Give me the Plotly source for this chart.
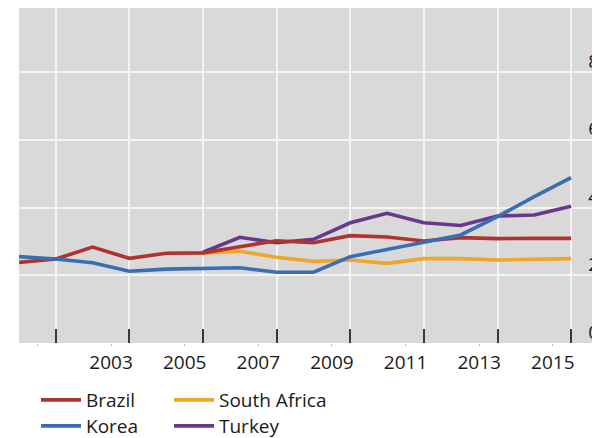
import plotly.graph_objects as go

years = list(range(2000, 2016))
brazil = [2.38, 2.48, 2.83, 2.50, 2.65, 2.66, 2.84, 3.02, 2.96, 3.17, 3.13, 3.01, 3.11, 3.08, 3.09, 3.09]
korea = [2.55, 2.48, 2.37, 2.12, 2.18, 2.21, 2.22, 2.09, 2.09, 2.55, 2.76, 2.96, 3.19, 3.73, 4.32, 4.88]
south_africa = [None] * 5 + [2.65, 2.71, 2.53, 2.41, 2.45, 2.35, 2.49, 2.49, 2.45, 2.48, 2.49]
turkey = [None] * 5 + [2.68, 3.12, 2.96, 3.06, 3.55, 3.83, 3.55, 3.47, 3.75, 3.78, 4.04]

label_years = list(range(2001, 2016, 2))
y_ticks = [0, 2, 4, 6, 8]

dates = [f"{y}-12-31" for y in years]
label_pos = [f"{y}-07-02" for y in label_years]
label_text = ["" if y == 2001 else str(y) for y in label_years]
grid_pos = [f"{y}-12-31" for y in label_years]

FONT = "Open Sans"
colors = {"Brazil": "#B0332F", "Korea": "#3A6EB4", "South Africa": "#F0A628", "Turkey": "#68388C"}

fig = go.Figure()
series = {"Brazil": brazil, "Korea": korea, "South Africa": south_africa, "Turkey": turkey}
legend_ids = {"Brazil": "legend", "Korea": "legend2", "South Africa": "legend3", "Turkey": "legend4"}
legend_xy = {"Brazil": (28, 373), "Korea": (28, 399), "South Africa": (161, 373), "Turkey": (161, 399)}
draw_order = ["South Africa", "Turkey", "Brazil", "Korea"]
for name in draw_order:
    fig.add_trace(go.Scatter(
        x=dates, y=series[name], name=name, mode="lines",
        line=dict(color=colors[name], width=3.6),
        legend=legend_ids[name],
    ))

# overlay axis for gridlines and inside ticks
fig.add_trace(go.Scatter(x=[dates[0]], y=[None], xaxis="x2", showlegend=False, hoverinfo="skip"))

X_RANGE = ["2000-12-31", "2016-12-31"]

legends = {}
for name, lid in legend_ids.items():
    lx, ly = legend_xy[name]
    legends[lid] = dict(
        xref="container", yref="container",
        x=lx / 600, y=1 - ly / 438, xanchor="left", yanchor="top",
        orientation="v", bgcolor="rgba(0,0,0,0)",
        font=dict(family=FONT, size=19, color="#1A1A1A"),
        itemwidth=40,
    )

fig.update_layout(
    width=600, height=438,
    margin=dict(l=11, r=0, t=0, b=103, autoexpand=False),
    paper_bgcolor="white",
    plot_bgcolor="#D9D9D9",
    font=dict(family=FONT, size=19, color="#1A1A1A"),
    xaxis=dict(
        type="date", range=X_RANGE,
        tickmode="array", tickvals=label_pos, ticktext=label_text,
        ticks="outside", ticklen=2, tickwidth=1, tickcolor="#BBBBBB",
        showgrid=False, zeroline=False, showline=False, automargin=False,
        tickangle=0,
        tickfont=dict(family=FONT, size=19, color="#1A1A1A"),
    ),
    xaxis2=dict(
        type="date", overlaying="x", matches="x", range=X_RANGE,
        tickmode="array", tickvals=grid_pos, showticklabels=False,
        ticks="inside", ticklen=14, tickwidth=2, tickcolor="#3A3A3A",
        showgrid=True, gridcolor="#F4F4F4", gridwidth=2,
        zeroline=False, showline=False, side="bottom", automargin=False,
    ),
    yaxis=dict(
        range=[0, 9.89], tickmode="array", tickvals=y_ticks,
        side="right", ticklabelposition="inside", ticklabeloverflow="allow",
        ticklabelstandoff=6, ticklabelshift=-11, automargin=False,
        showgrid=True, gridcolor="#F4F4F4", gridwidth=2,
        zeroline=False, showline=False, ticks="",
        tickfont=dict(family=FONT, size=19, color="#1A1A1A"),
    ),
    showlegend=True,
    **legends,
)

fig.write_html("out.html")
